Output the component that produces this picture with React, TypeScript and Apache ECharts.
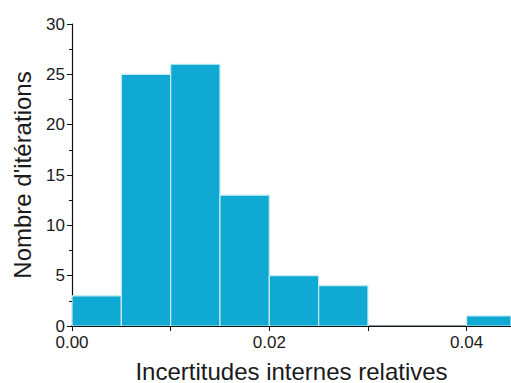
import React, { useEffect, useRef } from "react";
import * as echarts from "echarts";

const binStarts = [0.0, 0.005, 0.01, 0.015, 0.02, 0.025, 0.03, 0.035, 0.04];
const binWidth = 0.005;
const counts = [3, 25, 26, 13, 5, 4, 0, 0, 1];
const xTitle = "Incertitudes internes relatives";
const yTitle = "Nombre d'itérations";

export default function App() {
  const ref = useRef<HTMLDivElement>(null);
  useEffect(() => {
    if (!ref.current) return;
    const chart = echarts.init(ref.current, null, { renderer: "svg" });
    const data = binStarts.map((s, i) => [s, s + binWidth, counts[i]]);
    const font = "'Liberation Sans', Arial, Helvetica, sans-serif";
    chart.setOption({
      animation: false,
      grid: {
        left: 72,
        top: 24,
        right: 0,
        bottom: 57,
        containLabel: false,
        outerBoundsMode: "none",
      },
      xAxis: [
        {
          type: "value",
          min: 0,
          max: 0.0445,
          interval: 0.01,
          name: xTitle,
          nameLocation: "middle",
          nameGap: 33,
          nameTextStyle: { fontSize: 24, color: "#1a1a1a", fontFamily: font },
          axisLine: { show: true, onZero: false, lineStyle: { color: "#111", width: 1.5 } },
          axisTick: { show: true, length: 5, lineStyle: { color: "#111" } },
          axisLabel: {
            color: "#1a1a1a",
            fontSize: 17,
            lineHeight: 15,
            fontFamily: font,
            margin: 9,
            showMaxLabel: false,
            formatter: (v: number) => {
              const k = Math.round(v * 100);
              return k % 2 === 0 ? v.toFixed(2) : "";
            },
          },
          splitLine: { show: false },
        },
        {
          type: "value",
          position: "top",
          min: 0,
          max: 0.0445,
          axisLine: { show: true, lineStyle: { color: "#111", width: 1 } },
          axisTick: { show: false },
          axisLabel: { show: false },
          splitLine: { show: false },
        },
      ],
      yAxis: {
        type: "value",
        min: 0,
        max: 30,
        interval: 5,
        name: yTitle,
        nameLocation: "middle",
        nameGap: 38,
        nameTextStyle: { fontSize: 24, color: "#1a1a1a", fontFamily: font },
        axisLine: { show: true, lineStyle: { color: "#111", width: 1.2 } },
        axisTick: { show: true, length: 5, lineStyle: { color: "#111" } },
        minorTick: { show: true, splitNumber: 2, length: 3, lineStyle: { color: "#111" } },
        axisLabel: { color: "#1a1a1a", fontSize: 17, lineHeight: 14, fontFamily: font, margin: 7 },
        splitLine: { show: false },
      },
      series: [
        {
          type: "custom",
          clip: true,
          xAxisIndex: 0,
          data,
          renderItem: (params: any, api: any) => {
            const p0 = api.coord([api.value(0), api.value(2)]);
            const p1 = api.coord([api.value(1), 0]);
            const rect = echarts.graphic.clipRectByRect(
              { x: p0[0], y: p0[1], width: p1[0] - p0[0], height: p1[1] - p0[1] },
              {
                x: params.coordSys.x,
                y: params.coordSys.y,
                width: params.coordSys.width,
                height: params.coordSys.height,
              }
            );
            if (!rect) return null;
            return {
              type: "rect",
              shape: rect,
              style: { fill: "#0fa9d3", stroke: "#c6ebf5", lineWidth: 1.2 },
            };
          },
        },
      ],
    });
    return () => chart.dispose();
  }, []);
  return <div ref={ref} style={{ width: 511, height: 383, position: "absolute", left: 0, top: 0 }} />;
}
